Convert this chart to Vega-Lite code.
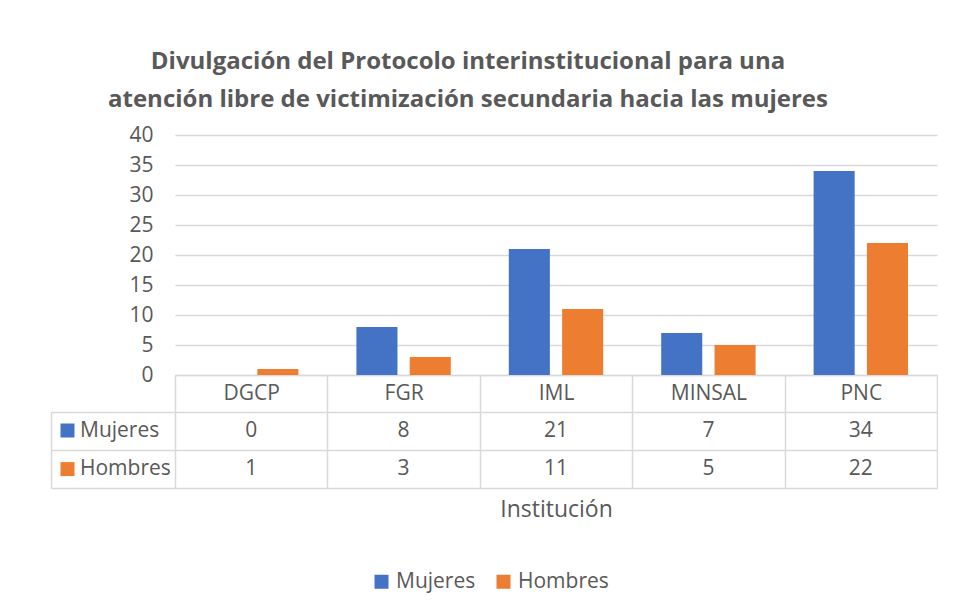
{
  "$schema": "https://vega.github.io/schema/vega-lite/v6.json",
  "background": "white",
  "padding": {"left": 50, "top": 50, "right": 0, "bottom": 25},
  "title": {
    "text": ["Divulgación del Protocolo interinstitucional para una", "atención libre de victimización secundaria hacia las mujeres"],
    "font": "Open Sans",
    "fontSize": 24,
    "fontWeight": "bold",
    "color": "#595959",
    "anchor": "middle",
    "lineHeight": 37.6,
    "offset": 12,
    "dx": -26
  },
  "data": {
    "values": [
      {"institucion": "DGCP", "serie": "Mujeres", "valor": 0},
      {"institucion": "DGCP", "serie": "Hombres", "valor": 1},
      {"institucion": "FGR", "serie": "Mujeres", "valor": 8},
      {"institucion": "FGR", "serie": "Hombres", "valor": 3},
      {"institucion": "IML", "serie": "Mujeres", "valor": 21},
      {"institucion": "IML", "serie": "Hombres", "valor": 11},
      {"institucion": "MINSAL", "serie": "Mujeres", "valor": 7},
      {"institucion": "MINSAL", "serie": "Hombres", "valor": 5},
      {"institucion": "PNC", "serie": "Mujeres", "valor": 34},
      {"institucion": "PNC", "serie": "Hombres", "valor": 22}
    ]
  },
  "bounds": "flush",
  "spacing": 37,
  "resolve": {"legend": {"color": "independent"}},
  "vconcat": [
    {
      "width": 762,
      "height": 240,
      "mark": {"type": "bar"},
      "encoding": {
        "x": {
          "field": "institucion",
          "type": "nominal",
          "scale": {"paddingInner": 0, "paddingOuter": 0},
          "axis": {
            "title": null,
            "labelAngle": 0,
            "tickBand": "extent",
            "tickSize": 37,
            "labelBaseline": "middle",
            "labelPadding": -18.5,
            "domainWidth": 1.5,
            "tickWidth": 1.5
          }
        },
        "xOffset": {
          "field": "serie",
          "type": "nominal",
          "sort": ["Mujeres", "Hombres"],
          "scale": {"paddingInner": 0.23, "paddingOuter": 0.544}
        },
        "y": {
          "field": "valor",
          "type": "quantitative",
          "scale": {"domain": [0, 40]},
          "axis": {
            "title": null,
            "values": [0, 5, 10, 15, 20, 25, 30, 35, 40],
            "domain": false,
            "ticks": false,
            "labelPadding": 22,
            "gridWidth": 1.3
          }
        },
        "color": {
          "field": "serie",
          "type": "nominal",
          "sort": ["Mujeres", "Hombres"],
          "scale": {"domain": ["Mujeres", "Hombres"], "range": ["#4472c4", "#ed7d31"]},
          "legend": {
            "title": null,
            "orient": "none",
            "direction": "horizontal",
            "legendX": 196,
            "legendY": 436,
            "symbolType": "square",
            "symbolSize": 196,
            "symbolStrokeWidth": 0,
            "labelOffset": 4,
            "columnPadding": 17
          }
        }
      }
    },
    {
      "width": 762,
      "height": 76,
      "encoding": {
        "x": {
          "field": "institucion",
          "type": "nominal",
          "scale": {"type": "band", "paddingInner": 0, "paddingOuter": 0},
          "axis": {
            "title": "Institución",
            "titleFontSize": 23,
            "titleFontWeight": "normal",
            "titlePadding": 10,
            "grid": true,
            "tickBand": "extent",
            "labels": false,
            "ticks": false,
            "domain": false,
            "gridWidth": 1.5
          }
        },
        "y": {
          "field": "serie",
          "type": "nominal",
          "sort": ["Mujeres", "Hombres"],
          "scale": {"type": "band", "paddingInner": 0, "paddingOuter": 0},
          "axis": {
            "title": null,
            "grid": true,
            "tickBand": "extent",
            "labels": false,
            "ticks": true,
            "tickSize": -124,
            "offset": 124,
            "domain": true,
            "gridWidth": 1.5,
            "tickWidth": 1.5,
            "domainWidth": 1.5
          }
        }
      },
      "layer": [
        {
          "mark": {"type": "text", "font": "Open Sans", "fontSize": 21, "color": "#595959", "baseline": "middle"},
          "encoding": {"text": {"field": "valor", "type": "quantitative"}}
        },
        {
          "mark": {"type": "square", "opacity": 0},
          "encoding": {
            "color": {
              "field": "serie",
              "type": "nominal",
              "sort": ["Mujeres", "Hombres"],
              "scale": {"domain": ["Mujeres", "Hombres"], "range": ["#4472c4", "#ed7d31"]},
              "legend": {
                "title": null,
                "orient": "none",
                "direction": "vertical",
                "legendX": -118,
                "legendY": 8,
                "symbolType": "square",
                "symbolSize": 196,
                "symbolStrokeWidth": 0,
                "symbolOpacity": 1,
                "labelOffset": 2,
                "rowPadding": 16.6
              }
            }
          }
        }
      ]
    }
  ],
  "config": {
    "view": {"stroke": null},
    "axis": {
      "labelFont": "Open Sans",
      "titleFont": "Open Sans",
      "labelFontSize": 21,
      "labelColor": "#595959",
      "titleColor": "#595959",
      "gridColor": "#d9d9d9",
      "domainColor": "#d9d9d9",
      "tickColor": "#d9d9d9"
    },
    "legend": {
      "labelFont": "Open Sans",
      "labelFontSize": 21,
      "labelColor": "#595959"
    }
  }
}
